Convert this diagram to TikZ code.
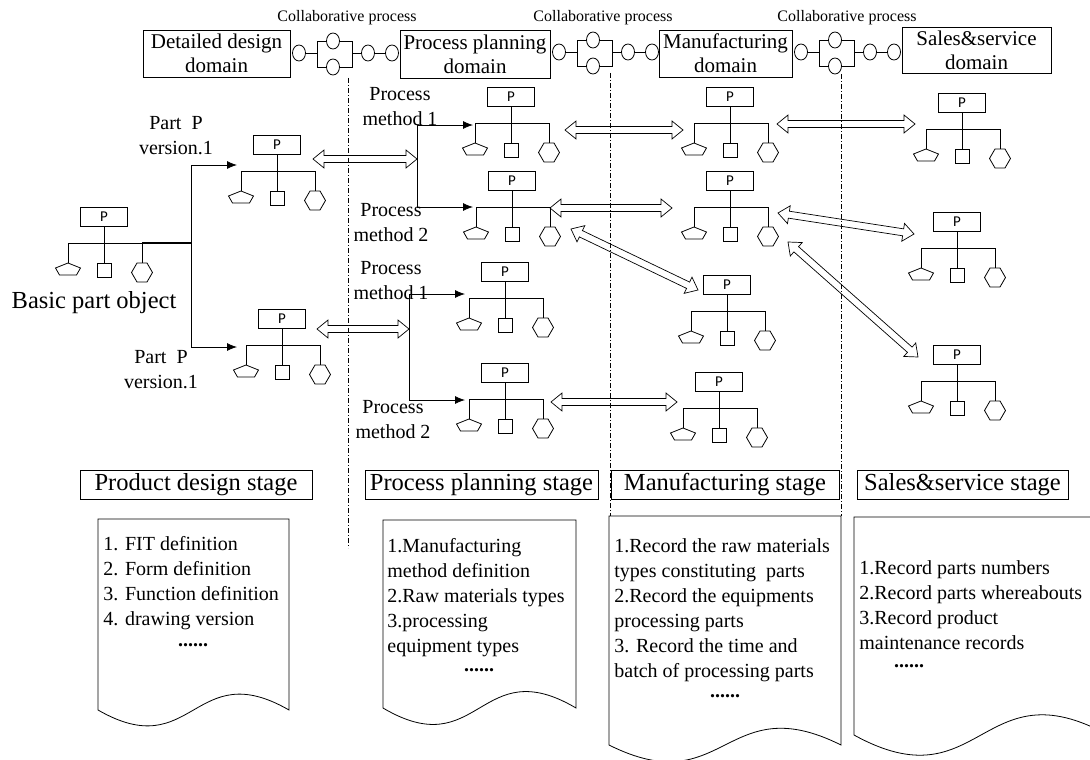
\documentclass[tikz,border=0pt]{standalone}
\usepackage{fontspec}
\setmainfont{Liberation Serif}
\newfontfamily\pfont{Carlito}
\usetikzlibrary{arrows.meta,calc,shapes.geometric}

% open two-headed block arrow between two named points
\newcommand{\biarrow}[2]{%
  \draw[hollow] (#1)
    -- ($(#1)!11pt!(#2)!9pt!90:(#2)$)
    -- ($(#1)!11pt!(#2)!3.5pt!90:(#2)$)
    -- ($(#2)!11pt!(#1)!3.5pt!-90:(#1)$)
    -- ($(#2)!11pt!(#1)!9pt!-90:(#1)$)
    -- (#2)
    -- ($(#2)!11pt!(#1)!9pt!90:(#1)$)
    -- ($(#2)!11pt!(#1)!3.5pt!90:(#1)$)
    -- ($(#1)!11pt!(#2)!3.5pt!-90:(#2)$)
    -- ($(#1)!11pt!(#2)!9pt!-90:(#2)$)
    -- cycle;}

\begin{document}
\begin{tikzpicture}[
		x=1pt, y=-1pt, line width=0.8pt,
		pbox/.style={draw, minimum width=47pt, minimum height=19pt, inner sep=0pt, font=\pfont\fontsize{15}{15}\selectfont},
		joint/.style={draw, ellipse, minimum width=13pt, minimum height=16pt, inner sep=0pt},
		domainbox/.style={draw, align=center, inner sep=0pt, font=\fontsize{21}{24}\selectfont},
		stagebox/.style={draw, minimum height=29pt, inner sep=0pt, font=\fontsize{24.5}{28}\selectfont},
		lbl/.style={align=center, inner sep=0pt, font=\fontsize{20}{25}\selectfont},
		notetext/.style={align=left, anchor=north west, inner sep=0pt, font=\fontsize{20}{25}\selectfont},
		moredots/.style={inner sep=0pt, font=\fontsize{20}{25}\selectfont\bfseries},
		flow/.style={-{Latex[length=10pt,width=8pt]}},
		hollow/.style={line width=0.7pt, line join=miter},
		divider/.style={line width=0.6pt, dash pattern=on 5pt off 2pt on 1pt off 2pt},
		parttree/.pic={
			\node[pbox] (-p) at (0,9.5) {P};
			\coordinate (-l) at (-36,36);
			\coordinate (-r) at (38,36);
			\draw (-p) -- (0,56);
			\draw (-36,56) -- (-l) -- (-r) -- (38,56);
			\draw (-36,56) -- (-23.5,61) -- (-27.5,68) -- (-44.5,68) -- (-48.5,61) -- cycle;
			\draw (-7,56) rectangle (7,70);
			\draw (33,56) -- (43,56) -- (48.5,65.5) -- (43,75) -- (33,75) -- (27.5,65.5) -- cycle;
		},
		collab/.pic={
			\node[joint] (-a) at (9,0) {};
			\node[joint] (-u) at (43,-12) {};
			\node[joint] (-w) at (43,14) {};
			\node[joint] (-c) at (78,0) {};
			\node[joint] (-d) at (102,0) {};
			\draw (-a) -- (27,0);
			\draw (-u) -| (27,14) -- (-w);
			\draw (-u) -| (62,14) -- (-w);
			\draw (62,0) -- (-c) -- (-d);
		}
	]
  \useasboundingbox (0,0) rectangle (1090,760);
  \clip (0,0) rectangle (1090,760);

  % domains and collaborative processes
  \node[domainbox, minimum width=147pt, minimum height=47pt] (dd) at (216.5,53.5) {Detailed design\\domain};
  \node[domainbox, minimum width=150pt, minimum height=48pt] (pd) at (475,54) {Process planning\\domain};
  \node[domainbox, minimum width=133pt, minimum height=47pt] (md) at (725.5,53.5) {Manufacturing\\domain};
  \node[domainbox, minimum width=149pt, minimum height=46pt] (sd) at (976.5,50) {Sales\&service\\domain};
  \pic (cp1) at (290,53) {collab};
  \pic (cp2) at (550,52) {collab};
  \pic (cp3) at (792,52) {collab};
  \node[inner sep=0pt, font=\fontsize{16}{16}\selectfont] (cl1) at (347,18) {Collaborative process};
  \node[inner sep=0pt, font=\fontsize{16}{16}\selectfont] (cl2) at (603,18) {Collaborative process};
  \node[inner sep=0pt, font=\fontsize{16}{16}\selectfont] (cl3) at (847,18) {Collaborative process};

  % stage dividers
  \coordinate (v1t) at (348,78);  \coordinate (v1b) at (348,548);
  \coordinate (v2t) at (610,73);  \coordinate (v2b) at (610,516);
  \coordinate (v3t) at (841,74);  \coordinate (v3b) at (841,516);
  \draw[divider] (v1t) -- (v1b);
  \draw[divider] (v2t) -- (v2b);
  \draw[divider] (v3t) -- (v3b);

  % part trees
  \pic (tA) at (104,207) {parttree};
  \pic (tB) at (277,135) {parttree};
  \pic (tC) at (282,309) {parttree};
  \pic (pp1) at (511,87) {parttree};
  \pic (pp2) at (512,171) {parttree};
  \pic (pp3) at (505,262) {parttree};
  \pic (pp4) at (505,363) {parttree};
  \pic (mf1) at (730,87) {parttree};
  \pic (mf2) at (730,171) {parttree};
  \pic (mf3) at (727,275) {parttree};
  \pic (mf4) at (719,372) {parttree};
  \pic (ss1) at (962,93) {parttree};
  \pic (ss2) at (957,212) {parttree};
  \pic (ss3) at (957,345) {parttree};

  \node[inner sep=0pt, font=\fontsize{24.5}{28}\selectfont] (basic) at (94,303) {Basic part object};
  \node[lbl] (verU) at (176,135.5) {Part~ P\\version.1};
  \node[lbl] (verL) at (161,370) {Part~ P\\version.1};
  \node[lbl] (pm1) at (400,106.5) {Process\\method 1};
  \node[lbl] (pm2) at (391,223) {Process\\method 2};
  \node[lbl] (pm3) at (391,281) {Process\\method 1};
  \node[lbl] (pm4) at (393,419.5) {Process\\method 2};

  % versions and methods
  \coordinate (split) at (191,243);
  \coordinate (inB) at (237,165);
  \coordinate (inC) at (237,347);
  \draw[line width=1.8pt] (tA-r) -- (split);
  \draw[flow] (split) |- (inB);
  \draw[flow] (split) |- (inC);
  \coordinate (fork1) at (417,159);
  \coordinate (fork2) at (409,329);
  \coordinate (in1) at (473,125);
  \coordinate (in2) at (473,207);
  \coordinate (in3) at (465,294);
  \coordinate (in4) at (465,400);
  \draw[flow] (fork1) |- (in1);
  \draw[flow] (fork1) |- (in2);
  \draw[flow] (fork2) |- (in3);
  \draw[flow] (fork2) |- (in4);

  % collaboration arrows
  \coordinate (outB) at (313,159);
  \coordinate (outC) at (317,329);
  \coordinate (a3s) at (565,130);  \coordinate (a3e) at (683,130);
  \coordinate (a4s) at (777,124);  \coordinate (a4e) at (915,124);
  \coordinate (a5s) at (550,208);  \coordinate (a5e) at (672,208);
  \coordinate (a6s) at (778,213);  \coordinate (a6e) at (914,234);
  \coordinate (a7s) at (571,229);  \coordinate (a7e) at (698,290);
  \coordinate (a8s) at (788,242);  \coordinate (a8e) at (918,357);
  \coordinate (a9s) at (551,402);  \coordinate (a9e) at (677,402);
  \biarrow{outB}{fork1}
  \biarrow{outC}{fork2}
  \biarrow{a3s}{a3e}
  \biarrow{a4s}{a4e}
  \biarrow{a5s}{a5e}
  \biarrow{a6s}{a6e}
  \biarrow{a7s}{a7e}
  \biarrow{a8s}{a8e}
  \biarrow{a9s}{a9e}

  % stages
  \node[stagebox, minimum width=232pt] (st1) at (196,484.5) {Product design stage};
  \node[stagebox, minimum width=233pt] (st2) at (481.5,484.5) {Process planning stage};
  \node[stagebox, minimum width=228pt] (st3) at (725,484.5) {Manufacturing stage};
  \node[stagebox, minimum width=211pt] (st4) at (962.5,484.5) {Sales\&service stage};

  \draw (98,519) -- (98,710) .. controls (193.5,765) and (193.5,655) .. (289,710) -- (289,519) -- cycle;
  \draw (383,520) -- (383,708) .. controls (479.5,765) and (479.5,651) .. (576,708) -- (576,520) -- cycle;
  \draw (609,516) -- (609,745) .. controls (725,803) and (725,687) .. (841,745) -- (841,516) -- cycle;
  \draw (854,517) -- (854,735) .. controls (981,805) and (981,665) .. (1108,735) -- (1108,517) -- cycle;

  \node[notetext] (n1) at (103,536) {1. FIT definition\\2. Form definition\\3. Function definition\\4. drawing version};
  \node[notetext] (n2) at (387,538) {1.Manufacturing\\method definition\\2.Raw materials types\\3.processing\\equipment types};
  \node[notetext] (n3) at (614,538) {1.Record the raw materials\\types constituting~ parts\\2.Record the equipments\\processing parts\\3. Record the time and\\batch of processing parts};
  \node[notetext] (n4) at (859,560) {1.Record parts numbers\\2.Record parts whereabouts\\3.Record product\\maintenance records};
  \node[moredots] (d1) at (193,645) {......};
  \node[moredots] (d2) at (479,670) {......};
  \node[moredots] (d3) at (725,696) {......};
  \node[moredots] (d4) at (909,666) {......};
\end{tikzpicture}
\end{document}
